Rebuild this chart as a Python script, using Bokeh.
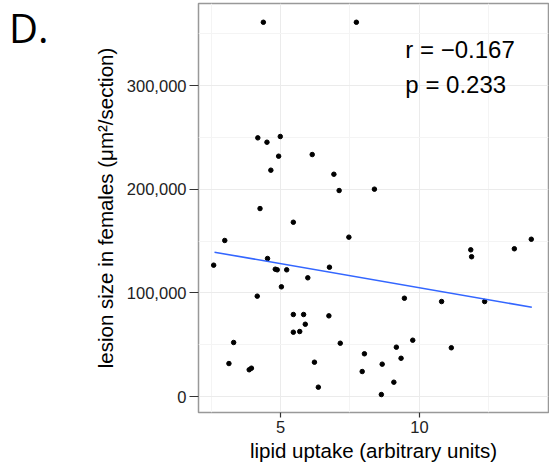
from bokeh.plotting import figure
from bokeh.models import Range1d, FixedTicker, NumeralTickFormatter, Label, ColumnDataSource, Div
from bokeh.layouts import row
from bokeh.embed import file_html
from bokeh.resources import INLINE

# lipid uptake (arbitrary units)
lipid_uptake = [4.38, 7.73, 4.18, 4.51, 4.99, 4.93, 4.65, 6.14, 6.92, 7.11,
                8.38, 4.26, 5.46, 2.99, 7.46, 2.59, 4.53, 4.81, 4.88, 5.22,
                6.76, 5.98, 5.03, 4.16, 5.46, 5.83, 6.74, 5.89, 5.46, 5.69,
                3.31, 7.15, 3.14, 6.22, 3.87, 3.95, 6.36, 7.94, 11.85, 11.88,
                13.42, 14.03, 9.46, 10.80, 12.35, 9.76, 11.15, 9.17, 8.02, 9.34,
                8.66, 9.08, 8.63]
# lesion size in females (um^2/section)
lesion_size = [361000, 361000, 249500, 245300, 250800, 231800, 218300, 233400, 214400, 198700,
               200000, 181300, 168100, 150500, 153700, 126700, 133100, 122800, 122200, 122200,
               124700, 114500, 105800, 96800, 79100, 79100, 77800, 69700, 62000, 62700,
               52100, 51400, 31800, 33100, 25800, 27300, 9000, 24100, 141500, 134800,
               142500, 151700, 94800, 91600, 91600, 54300, 47000, 47600, 41200, 36900,
               31200, 13800, 1900]
# fitted regression line end points
fit_x = [2.62, 14.05]
fit_y = [139200, 86100]

x_ticks = [5, 10]
x_minor = [2.5, 7.5, 12.5]
y_ticks = [0, 100000, 200000, 300000]
y_minor = [50000, 150000, 250000, 350000]

r_text = "r = \u22120.167"
p_text = "p = 0.233"
panel_tag = "D."

p = figure(width=459, height=466, output_backend="svg", toolbar_location=None,
           x_range=Range1d(2.044, 14.65), y_range=Range1d(-15430, 379100),
           min_border_left=108, min_border_right=1, min_border_top=3, min_border_bottom=54,
           margin=(0, 0, 0, 0))
p.background_fill_color = "white"
p.border_fill_color = "white"
p.outline_line_color = "#999999"
p.outline_line_width = 1.5

p.xaxis.ticker = FixedTicker(ticks=x_ticks, minor_ticks=x_minor)
p.yaxis.ticker = FixedTicker(ticks=y_ticks, minor_ticks=y_minor)
p.yaxis.formatter = NumeralTickFormatter(format="0,0")

for g in (p.xgrid, p.ygrid):
    g.grid_line_color = "#ebebeb"
    g.grid_line_width = 1
    g.minor_grid_line_color = "#f4f4f4"
    g.minor_grid_line_width = 1

for ax in (p.xaxis, p.yaxis):
    ax.axis_line_color = None
    ax.major_tick_in = 0
    ax.minor_tick_in = 0
    ax.minor_tick_out = 0
    ax.major_tick_line_color = "#333333"
    ax.major_tick_line_width = 1.2
    ax.major_label_text_font = "Liberation Sans"
    ax.major_label_text_font_size = "16.5px"
    ax.major_label_text_color = "#222222"
    ax.axis_label_text_font = "Liberation Sans"
    ax.axis_label_text_font_size = "20.5px"
    ax.axis_label_text_font_style = "normal"
    ax.axis_label_text_color = "#000000"

p.xaxis.major_tick_out = 5
p.yaxis.major_tick_out = 9
p.xaxis.major_label_standoff = 3
p.yaxis.major_label_standoff = 3
p.xaxis.axis_label_standoff = 3
p.yaxis.axis_label_standoff = 7
p.xaxis.axis_label = "lipid uptake (arbitrary units)"
p.yaxis.axis_label = "lesion size in females (\u03bcm\u00b2/section)"

src = ColumnDataSource(data=dict(x=lipid_uptake, y=lesion_size))
p.scatter("x", "y", source=src, size=4.5, color="black")
p.line(fit_x, fit_y, line_color="#3366FF", line_width=1.6)

p.add_layout(Label(x=9.495, y=334700, text=r_text, text_font="Liberation Sans",
                   text_font_size="24px", text_color="black", text_baseline="alphabetic"))
p.add_layout(Label(x=9.495, y=300900, text=p_text, text_font="Liberation Sans",
                   text_font_size="24px", text_color="black", text_baseline="alphabetic"))

tag = Div(text=panel_tag, width=90, height=466, margin=(0, 0, 0, 0),
          styles={"font-family": "Open Sans", "font-size": "40px", "line-height": "normal",
                  "color": "black", "padding-left": "9px", "padding-top": "0px"})

layout = row(tag, p, spacing=0)
open("out.html", "w").write(file_html(layout, INLINE))
